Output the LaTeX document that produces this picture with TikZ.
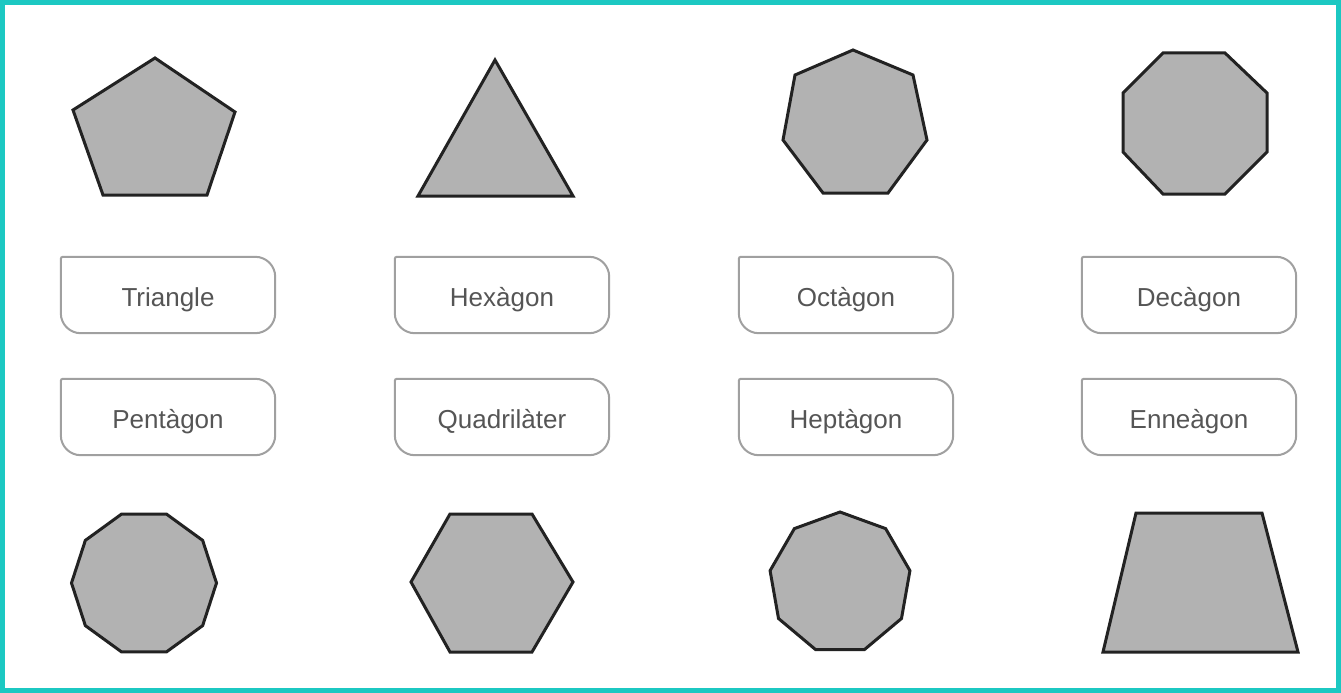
\documentclass[tikz,border=0pt]{standalone}
\usepackage{fontspec}
\setmainfont{Liberation Sans}
\usetikzlibrary{calc}
\definecolor{frame}{RGB}{28,200,194}
\definecolor{shapefill}{RGB}{178,178,178}
\definecolor{shapeline}{RGB}{34,34,34}
\definecolor{boxline}{RGB}{160,160,160}
\definecolor{txt}{RGB}{85,85,85}
\tikzset{
  poly/.style={fill=shapefill,draw=shapeline,line width=3pt,line join=miter},
  lbl/.style={minimum width=214pt,minimum height=76pt,inner sep=0pt,text height=22pt,text depth=0pt,text=txt,font=\fontsize{26}{30}\selectfont},
  boxedge/.style={draw=boxline,line width=2pt}
}
\newcommand\labelbox[3]{%
  \node[lbl] (#1) at (#2) {#3};
  \draw[boxedge] (#1.west) [rounded corners=2pt]-- (#1.north west) -- (#1.north) [rounded corners=20pt] -- (#1.north east) -- (#1.south east) -- (#1.south west) -- cycle;
}
\begin{document}
\begin{tikzpicture}[x=1pt,y=-1pt]
\useasboundingbox (0,0) rectangle (1341,693);
\fill[white] (0,0) rectangle (1341,693);
\draw[frame,line width=5pt] (2.5,2.5) rectangle (1338.5,690.5);
% top row shapes
\draw[poly] (155,58) -- (235,112) -- (207,195) -- (103,195) -- (73,110) -- cycle;
\draw[poly] (495,60) -- (573,196) -- (418,196) -- cycle;
\draw[poly] (853,50) -- (913,75) -- (927,140) -- (888,193) -- (823,193) -- (783,140) -- (795,75) -- cycle;
\draw[poly] (1163,53) -- (1225,53) -- (1267,93) -- (1267,152) -- (1225,194) -- (1163,194) -- (1123,152) -- (1123,93) -- cycle;
% bottom row shapes
\draw[poly] ($(144,583)+(0:72.5)$) \foreach \k in {1,...,9} { -- ($(144,583)+(36*\k:72.5)$) } -- cycle;
\draw[poly] (450,514) -- (532,514) -- (573,582) -- (532,652) -- (450,652) -- (411,582) -- cycle;
\draw[poly] ($(840,583)+(270:71)$) \foreach \k in {1,...,8} { -- ($(840,583)+(270+40*\k:71)$) } -- cycle;
\draw[poly] (1136,513) -- (1262,513) -- (1298,652) -- (1103,652) -- cycle;
% labels
\labelbox{l1}{168,295}{Triangle}
\labelbox{l2}{502,295}{Hexàgon}
\labelbox{l3}{846,295}{Octàgon}
\labelbox{l4}{1189,295}{Decàgon}
\labelbox{l5}{168,417}{Pentàgon}
\labelbox{l6}{502,417}{Quadrilàter}
\labelbox{l7}{846,417}{Heptàgon}
\labelbox{l8}{1189,417}{Enneàgon}
\end{tikzpicture}
\end{document}
